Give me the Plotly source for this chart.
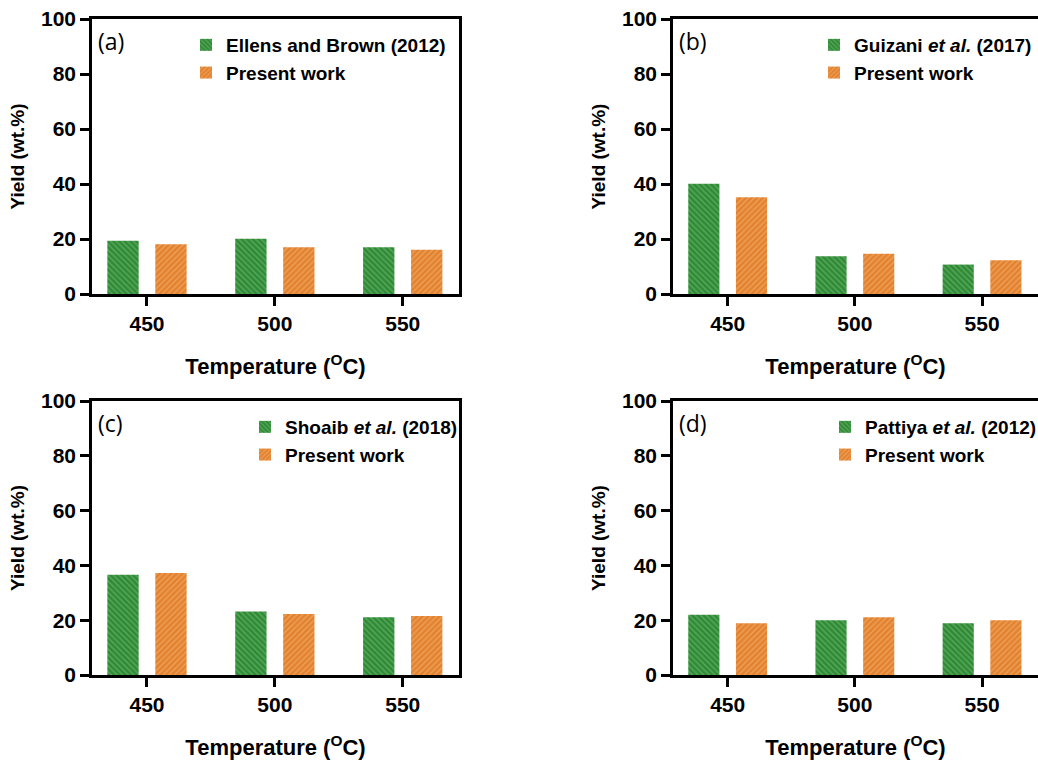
import plotly.graph_objects as go

temps = ["450", "500", "550"]
xpos = [0, 1, 2]

refs_a = [19.4, 20.1, 17.0]
present_a = [18.1, 17.0, 16.1]
refs_b = [40.1, 13.7, 10.7]
present_b = [35.2, 14.6, 12.3]
refs_c = [36.6, 23.2, 21.1]
present_c = [37.2, 22.3, 21.5]
refs_d = [22.0, 20.0, 18.9]
present_d = [18.9, 21.1, 20.0]

ref_names = ["Ellens and Brown (2012)", "Guizani <i>et al.</i> (2017)",
             "Shoaib <i>et al.</i> (2018)", "Pattiya <i>et al.</i> (2012)"]
panel_labels = ["(a)", "(b)", "(c)", "(d)"]
yticks = [0, 20, 40, 60, 80, 100]

W, H = 1038, 764
FONT = "Liberation Sans, Arial, sans-serif"

GREEN = "#2f8a35"
GREEN_FG = "#86c886"
ORANGE = "#e3822e"
ORANGE_FG = "#f7bf88"

# panel pixel geometry (left, right, top, bottom)
panels = [
    (92, 459, 19, 294),
    (673, 1040, 19, 294),
    (92, 459, 401, 675),
    (673, 1040, 401, 675),
]
legend_pos = [(186, 26), (814, 26), (245, 408), (825, 408)]

data = [(refs_a, present_a), (refs_b, present_b), (refs_c, present_c), (refs_d, present_d)]

fig = go.Figure()
layout = {}
annotations = []
for i, ((l, r, t, b), (refv, presv)) in enumerate(zip(panels, data)):
    n = "" if i == 0 else str(i + 1)
    xa, ya = "x" + n, "y" + n
    lg = "legend" + n
    fig.add_trace(go.Bar(
        x=xpos, y=refv, name=ref_names[i], xaxis=xa, yaxis=ya, legend=lg,
        legendgroup="ref" + n,
        offset=-0.31, width=0.245,
        marker=dict(color=GREEN, line=dict(width=0),
                    pattern=dict(shape="\\", fgcolor=GREEN_FG, size=4, solidity=0.35)),
    ))
    fig.add_trace(go.Bar(
        x=xpos, y=presv, name="Present work", xaxis=xa, yaxis=ya, legend=lg,
        legendgroup="pres" + n,
        offset=0.065, width=0.245,
        marker=dict(color=ORANGE, line=dict(width=0),
                    pattern=dict(shape="/", fgcolor=ORANGE_FG, size=4, solidity=0.35)),
    ))
    layout["xaxis" + n] = dict(
        domain=[l / W, min(r / W, 1.0)], anchor=ya, range=[-0.43, 2.44],
        tickmode="array", tickvals=xpos, ticktext=temps,
        ticks="outside", ticklen=9, tickwidth=2.5, tickcolor="black",
        showline=True, linewidth=2.5, linecolor="black", mirror=True,
        showgrid=False, zeroline=False,
        tickfont=dict(family=FONT, size=21, color="black", weight="bold"),
        title=dict(text="Temperature (<sup>O</sup>C)", standoff=25,
                   font=dict(family=FONT, size=22, color="black", weight="bold")),
        automargin=False,
    )
    layout["yaxis" + n] = dict(
        domain=[1 - b / H, 1 - t / H], anchor=xa, range=[0, 100],
        tickmode="array", tickvals=yticks,
        ticks="outside", ticklen=9, tickwidth=2.5, tickcolor="black",
        showline=True, linewidth=2.5, linecolor="black", mirror=True,
        showgrid=False, zeroline=False,
        tickfont=dict(family=FONT, size=21, color="black", weight="bold"),
        title=dict(text="Yield (wt.%)", standoff=12,
                   font=dict(family=FONT, size=19, color="black", weight="bold")),
        automargin=False,
    )
    lx, ly = legend_pos[i]
    layout[lg] = dict(
        x=lx / W, y=1 - ly / H, xanchor="left", yanchor="top",
        bgcolor="rgba(0,0,0,0)", borderwidth=0, tracegroupgap=9,
        font=dict(family=FONT, size=19, color="black", weight="bold"),
        traceorder="normal", itemclick=False,
    )
    annotations.append(dict(
        text=panel_labels[i], x=(l + 4) / W, y=1 - (t + 22) / H,
        xref="paper", yref="paper", xanchor="left", yanchor="middle",
        showarrow=False, font=dict(family="Open Sans, sans-serif", size=23, color="black"),
    ))

fig.update_layout(
    width=W, height=H,
    margin=dict(l=0, r=0, t=0, b=0, autoexpand=False),
    paper_bgcolor="white", plot_bgcolor="white",
    barmode="group",
    annotations=annotations,
    showlegend=True,
    **layout,
)

fig.write_html("out.html")
